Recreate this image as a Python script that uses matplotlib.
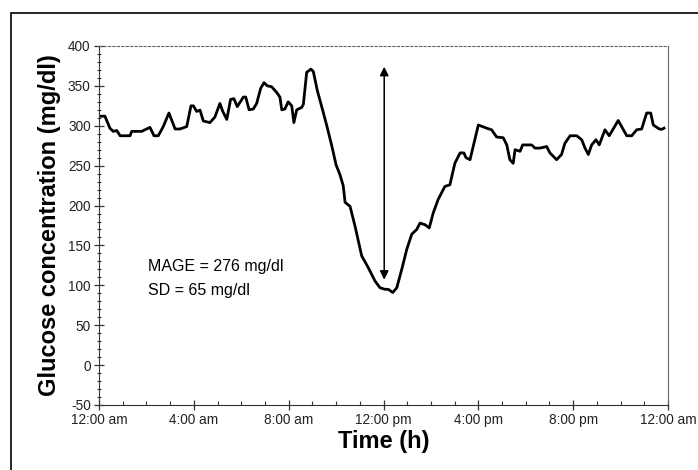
import numpy as np
import matplotlib
matplotlib.use('Agg')
import matplotlib.pyplot as plt
from matplotlib.ticker import MultipleLocator, FixedLocator
from matplotlib.patches import Rectangle

plt.rcParams['font.family'] = ['Liberation Sans', 'DejaVu Sans']
plt.rcParams['axes.unicode_minus'] = False

# time of day in hours since midnight, glucose in mg/dl
hours = [0.0, 0.25, 0.46, 0.60, 0.75, 0.89, 1.31, 1.38, 1.80, 2.15, 2.32, 2.50, 2.71, 2.95,
         3.21, 3.42, 3.70, 3.88, 3.98, 4.12, 4.26, 4.40, 4.68, 4.89, 5.10, 5.22, 5.39, 5.55,
         5.69, 5.83, 6.09, 6.19, 6.33, 6.51, 6.65, 6.82, 6.96, 7.10, 7.28, 7.49, 7.63, 7.71,
         7.84, 7.98, 8.13, 8.22, 8.34, 8.55, 8.62, 8.76, 8.94, 9.04, 9.21, 9.43, 9.60, 9.81,
         10.0, 10.16, 10.30, 10.38, 10.59, 10.80, 11.08, 11.36, 11.64, 11.85, 12.06, 12.20,
         12.39, 12.56, 12.77, 12.98, 13.19, 13.40, 13.54, 13.75, 13.93, 14.10, 14.31, 14.59,
         14.80, 15.01, 15.23, 15.39, 15.48, 15.65, 16.0, 16.35, 16.56, 16.77, 17.05, 17.20,
         17.33, 17.47, 17.55, 17.76, 17.87, 18.11, 18.25, 18.39, 18.60, 18.88, 19.02, 19.30,
         19.51, 19.65, 19.87, 20.15, 20.36, 20.50, 20.64, 20.78, 20.96, 21.10, 21.34, 21.52,
         21.90, 22.26, 22.47, 22.68, 22.89, 23.10, 23.27, 23.38, 23.63, 23.73, 23.83]
glucose = [312, 312, 297, 293, 294, 287.5, 287.5, 293, 293, 298, 287.5, 287.5, 299, 316,
           296, 296, 299, 325, 325, 318, 319.6, 306, 304, 311, 328, 318, 308, 333,
           334, 324, 336, 336, 320, 321, 328, 347, 354, 350, 349, 342, 336, 320,
           321, 330, 325, 304, 320, 323, 327, 367, 371, 368, 344, 320, 301, 276,
           251, 239, 225, 204, 199, 174, 137, 122, 105.5, 97, 95, 95,
           91, 97, 120, 145, 164, 170, 178, 176, 172, 191, 208, 224,
           226, 253, 266, 266, 260, 257.5, 301, 297, 295, 286, 285, 276,
           257.5, 253, 270, 268, 276, 276, 276, 272, 272, 274, 266, 257.5,
           264, 278, 287.5, 287.5, 282.5, 272, 264, 276, 282.5, 276, 295, 287.5,
           306.6, 287.5, 287.5, 295, 296, 316, 316, 301, 296, 295.5, 297]

tick_hours = [0, 4, 8, 12, 16, 20, 24]
tick_labels = ['12:00 am', '4:00 am', '8:00 am', '12:00 pm', '4:00 pm', '8:00 pm', '12:00 am']

mage_low, mage_high = 107, 374
arrow_hour = 12.03
notes = ['MAGE = 276 mg/dl', 'SD = 65 mg/dl']

fig = plt.figure(figsize=(6.98, 4.70), dpi=100)
ax = fig.add_axes([99 / 698, 1 - 405 / 470, (668 - 99) / 698, (405 - 46) / 470])

# outer frame (only left and top edges are visible)
fig.add_artist(Rectangle((11 / 698, -0.1), 1.2, 1 - 13 / 470 + 0.1, transform=fig.transFigure,
                         fill=False, edgecolor='black', linewidth=1.2))

ax.plot(hours, glucose, color='black', linewidth=2.0, solid_joinstyle='round')

ax.annotate('', xy=(arrow_hour, mage_high), xytext=(arrow_hour, mage_low),
            arrowprops=dict(arrowstyle='<|-|>', color='black', lw=1.1,
                            mutation_scale=13, shrinkA=0, shrinkB=0))

ax.text(2.07, 124, notes[0], fontsize=11.5, ha='left', va='center')
ax.text(2.07, 94, notes[1], fontsize=11.5, ha='left', va='center')

ax.set_xlim(0, 24)
ax.set_ylim(-50, 400)
ax.xaxis.set_major_locator(FixedLocator(tick_hours))
ax.set_xticklabels(tick_labels)
ax.xaxis.set_minor_locator(MultipleLocator(1))
ax.yaxis.set_major_locator(MultipleLocator(50))
ax.yaxis.set_minor_locator(MultipleLocator(10))

ax.tick_params(axis='both', which='major', direction='inout', length=7, width=0.9,
               labelsize=9.8, color='#333333', labelcolor='#222222', pad=2.5)
ax.tick_params(axis='x', which='minor', direction='in', length=3, width=0.8, color='#333333')
ax.tick_params(axis='y', which='minor', direction='inout', length=3, width=0.8, color='#333333')

ax.spines['left'].set_color('#333333')
ax.spines['bottom'].set_color('#333333')
ax.spines['right'].set_color('#666666')
ax.spines['top'].set_color('#666666')
ax.spines['top'].set_linestyle((0, (2, 2)))

ax.set_ylabel('Glucose concentration (mg/dl)', fontsize=17, fontweight='bold', labelpad=5)
ax.set_xlabel('Time (h)', fontsize=17, fontweight='bold', labelpad=2)

fig.savefig('out.png', dpi=100)
